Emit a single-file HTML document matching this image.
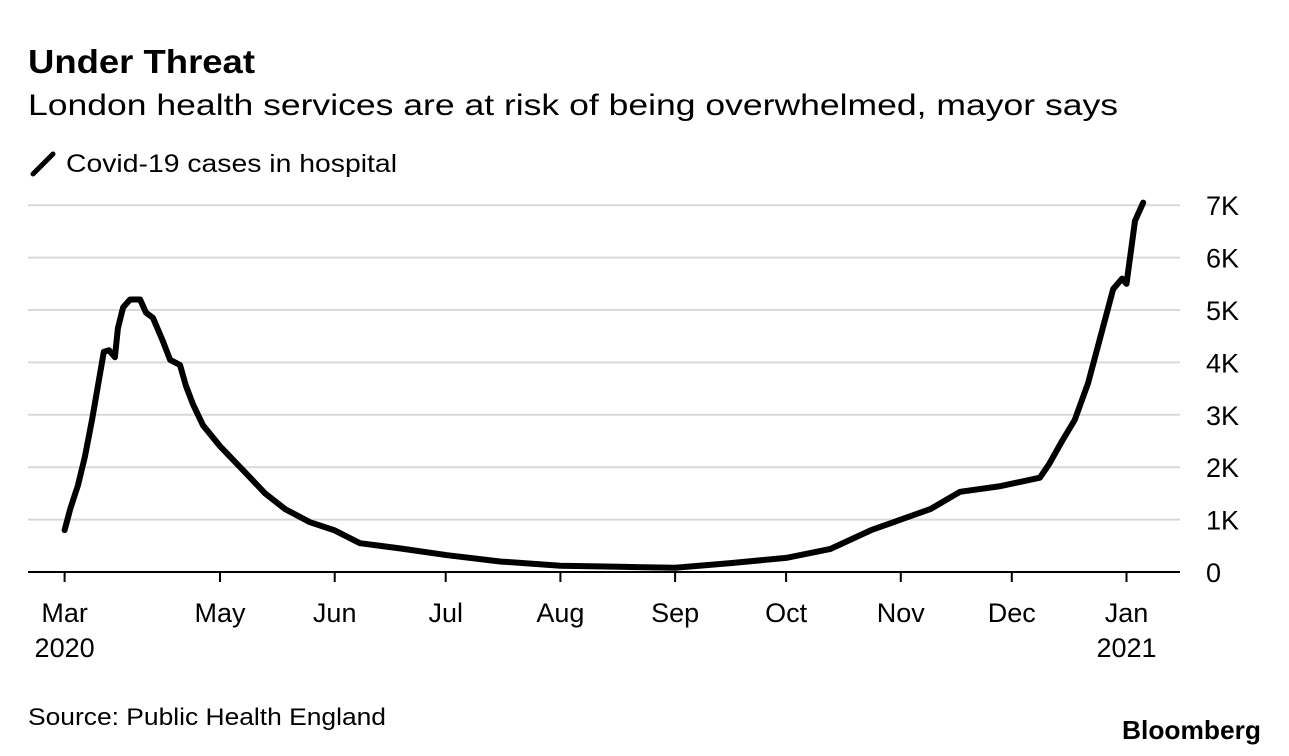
<!DOCTYPE html>
<html><head><meta charset="utf-8"><style>
body{margin:0;background:#fff;width:1289px;height:756px;overflow:hidden;font-family:"Liberation Sans",sans-serif;color:#000}
</style></head><body>
<svg width="1289" height="756" style="position:absolute;left:0;top:0;font-family:'Liberation Sans',sans-serif">
<text x="28" y="73" font-size="33" font-weight="bold" textLength="227" lengthAdjust="spacingAndGlyphs">Under Threat</text>
<text x="28" y="115" font-size="30" textLength="1090" lengthAdjust="spacingAndGlyphs">London health services are at risk of being overwhelmed, mayor says</text>
<line x1="33" y1="174" x2="53" y2="154" stroke="#000" stroke-width="5" stroke-linecap="round"/>
<text x="66" y="172" font-size="25" textLength="331" lengthAdjust="spacingAndGlyphs">Covid-19 cases in hospital</text>
<g id="grid"></g><g id="xax"></g><g id="plot"></g>
<text x="28" y="725" font-size="24" textLength="358" lengthAdjust="spacingAndGlyphs">Source: Public Health England</text>
<text x="1261" y="739" font-size="26" font-weight="bold" text-anchor="end" textLength="139" lengthAdjust="spacingAndGlyphs">Bloomberg</text>
</svg>
<script>
const days=[-42,-40.5,-38.4,-36.5,-34.6,-33,-31.4,-30,-28.4,-27.6,-26.2,-24.3,-21.6,-20,-18.1,-15.4,-13.5,-10.8,-9.2,-7.3,-4.6,0,6.8,12.2,17.6,24.3,30.8,37.8,48.6,61.4,75.7,92,108,123,138,153,165,176,184,192,200,211,221.6,224,227.6,231,234.6,237.8,241.4,243.8,245,247.3,249.5];
const values=[0.8,1.2,1.65,2.2,2.9,3.55,4.2,4.23,4.1,4.65,5.05,5.2,5.2,4.95,4.85,4.4,4.05,3.95,3.55,3.2,2.8,2.4,1.9,1.5,1.2,0.95,0.8,0.55,0.45,0.32,0.2,0.12,0.1,0.08,0.17,0.27,0.44,0.8,1.0,1.2,1.53,1.64,1.8,2.05,2.5,2.9,3.6,4.45,5.4,5.6,5.5,6.7,7.05];
const yTicks=[0,1,2,3,4,5,6,7];
const yLabels=["0","1K","2K","3K","4K","5K","6K","7K"];
const monthDays=[-42,0,31,61,92,123,153,184,214,245];
const monthLabels=["Mar","May","Jun","Jul","Aug","Sep","Oct","Nov","Dec","Jan"];
const yearLabels=["2020","","","","","","","","","2021"];
const NS="http://www.w3.org/2000/svg";
const xs=d=>220+d*3.7;
const ys=v=>572-v*52.4;
function mk(tag,attrs,parent){const e=document.createElementNS(NS,tag);for(const k in attrs)e.setAttribute(k,attrs[k]);parent.appendChild(e);return e;}
const grid=document.getElementById('grid'),xax=document.getElementById('xax'),plot=document.getElementById('plot');
yTicks.forEach((v,i)=>{
  if(v>0){const l=mk('line',{x1:28,x2:1180,y1:ys(v),y2:ys(v),stroke:'#d9d9d9','stroke-width':2},grid);
  
  }
  const t=mk('text',{x:1206,y:ys(v)+10,'font-size':27},grid);t.textContent=yLabels[i];
  
  
});
const base=mk('line',{x1:28,x2:1180,y1:572,y2:572,stroke:'#000','stroke-width':2},xax);


monthDays.forEach((d,i)=>{
  const x=xs(d);
  const tk=mk('line',{x1:x,x2:x,y1:572,y2:582,stroke:'#000','stroke-width':2},xax);
  
  
  const t=mk('text',{x:x,y:622,'font-size':27,'text-anchor':'middle'},xax);t.textContent=monthLabels[i];
  
  
  if(yearLabels[i]){const y=mk('text',{x:x,y:657,'font-size':27,'text-anchor':'middle'},xax);y.textContent=yearLabels[i];
  
  }
});
const p=mk('path',{d:days.map((d,i)=>(i?'L':'M')+xs(d).toFixed(1)+','+ys(values[i]).toFixed(1)).join(''),fill:'none',stroke:'#000','stroke-width':6,'stroke-linejoin':'round','stroke-linecap':'round'},plot);


</script>
</body></html>
